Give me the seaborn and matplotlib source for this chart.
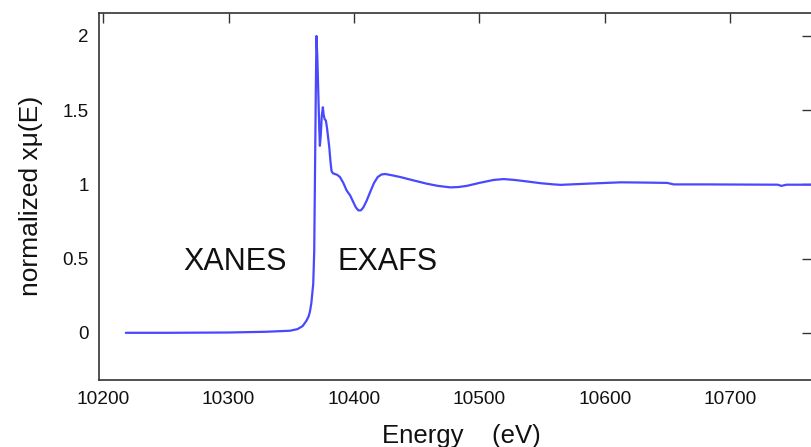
import matplotlib
matplotlib.use("Agg")
import matplotlib.pyplot as plt
from matplotlib import font_manager
import seaborn as sns
import pandas as pd

# ---- data ----
energy = [10218, 10250, 10300, 10330, 10349, 10355, 10359, 10362, 10363.8, 10364.8,
          10366, 10367.5, 10368.3, 10368.8, 10369.6, 10370.1, 10370.8, 10371.6,
          10372.3, 10372.8, 10373.5, 10374.3, 10375.2, 10375.8, 10376.6, 10377.6,
          10378.5, 10380.3, 10381.3, 10382.1, 10383.2, 10384.8, 10386.5, 10388.8,
          10391.5, 10394.1, 10397, 10399.5, 10401.5, 10403.5, 10405.5, 10407.5,
          10410.1, 10413, 10416, 10419, 10422, 10425, 10430, 10436.8, 10447,
          10458, 10467, 10476.8, 10483, 10490, 10500, 10511.4, 10519.4, 10528,
          10538, 10549, 10559.4, 10565, 10581, 10595, 10613, 10635, 10650, 10655,
          10680, 10708, 10738, 10741, 10745, 10766]
mu = [0.0, 0.0, 0.002, 0.007, 0.014, 0.025, 0.045, 0.08, 0.11, 0.14,
      0.2, 0.33, 0.55, 0.98, 1.66, 2.0, 1.85, 1.6,
      1.38, 1.26, 1.33, 1.46, 1.52, 1.47, 1.44, 1.43,
      1.38, 1.25, 1.15, 1.09, 1.075, 1.07, 1.065, 1.05,
      1.01, 0.96, 0.925, 0.88, 0.845, 0.825, 0.825, 0.845,
      0.89, 0.95, 1.01, 1.05, 1.067, 1.07, 1.062, 1.05, 1.028,
      1.005, 0.99, 0.98, 0.982, 0.99, 1.01, 1.03, 1.036, 1.03,
      1.02, 1.008, 1.0, 0.997, 1.003, 1.008, 1.014, 1.012, 1.01, 1.0,
      1.0, 0.999, 0.998, 0.99, 0.998, 0.998]
x_ticks = [10200, 10300, 10400, 10500, 10600, 10700]
y_ticks = [0, 0.5, 1, 1.5, 2]
y_tick_labels = ["0", "0.5", "1", "1.5", "2"]
region_labels = ["XANES", "EXAFS"]
region_x = [10264, 10386.5]
region_y = [0.426, 0.426]

df = pd.DataFrame({"energy": energy, "mu": mu})

sns.set_theme(style="white")
plt.rcParams["font.family"] = ["Liberation Sans", "DejaVu Sans"]

avail = {f.name for f in font_manager.fontManager.ttflist}
narrow = "Liberation Sans Narrow" if "Liberation Sans Narrow" in avail else "Liberation Sans"

fig = plt.figure(figsize=(8.11, 4.47), dpi=100)
ax = fig.add_axes([98.5 / 811, (447 - 380) / 447, (812 - 98.5) / 811, (380 - 12.7) / 447])

sns.lineplot(data=df, x="energy", y="mu", ax=ax, color="#4848ff", linewidth=1.6,
             estimator=None, sort=False)

ax.set_xlim(10196.2, 10765.4)
ax.set_ylim(-0.318, 2.157)
ax.set_xticks(x_ticks)
ax.set_xticklabels([str(t) for t in x_ticks], fontsize=15 if narrow != "Liberation Sans" else 13.8,
                   family=narrow)
ax.set_yticks(y_ticks)
ax.set_yticklabels(y_tick_labels, fontsize=13.5)

for s in ax.spines.values():
    s.set_color("#333333")
    s.set_linewidth(1.2)
    s.set_visible(True)

ax.tick_params(axis="both", direction="in", length=7, width=1.0, color="#333333",
               labelcolor="#111111", top=True, right=True)
ax.tick_params(axis="y", pad=7)
ax.tick_params(axis="x", pad=8)

ax.set_xlabel("")
ax.set_ylabel("normalized xμ(E)", fontsize=19, color="#111111", labelpad=14)

for lab, xx, yy in zip(region_labels, region_x, region_y):
    ax.text(xx, yy, lab, fontsize=22, ha="left", va="baseline", color="#111111")

fig.text(461 / 811, (447 - 443) / 447, "Energy    (eV)", fontsize=18.5,
         ha="center", va="baseline", color="#111111")

fig.savefig("out.png", dpi=100)
